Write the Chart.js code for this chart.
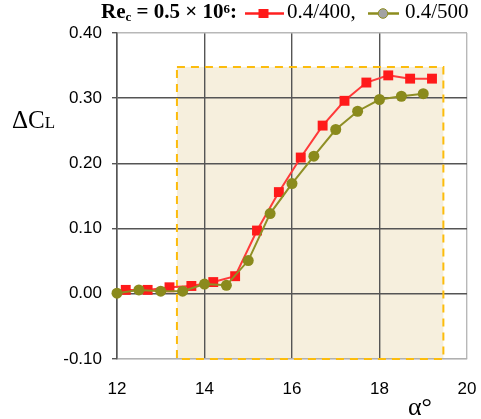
<!DOCTYPE html>
<html><head><meta charset="utf-8">
<script src="https://cdn.jsdelivr.net/npm/chart.js@4"></script>
<style>
body{margin:0;background:#fff}
#wrap{position:relative;width:481px;height:419px;overflow:hidden}
canvas{position:absolute;left:0;top:0}
.t{position:absolute;font-family:"Liberation Serif","Times New Roman",serif;color:#000;white-space:nowrap}
.sub{font-size:0.62em;position:relative;top:0.22em}
.sup{font-size:0.62em;position:relative;top:-0.42em}
svg{position:absolute}
</style></head><body>
<div id="wrap">
<canvas id="c" width="481" height="419"></canvas>
<div class="t" style="left:101px;top:1px;font-size:21px;line-height:21px;font-weight:bold">Re<span class="sub">c</span> = 0.5 × 10<span class="sup">6</span>:</div>
<svg style="left:245px;top:6px" width="40" height="15"><line x1="0" y1="7.5" x2="39" y2="7.5" stroke="#ff2020" stroke-width="2.5"/><rect x="13.5" y="3" width="10" height="9" fill="#ff1a1a"/></svg>
<div class="t" style="left:287px;top:1px;font-size:21px;line-height:21px">0.4/400,</div>
<svg style="left:368px;top:6px" width="32" height="15"><line x1="0" y1="7.5" x2="31" y2="7.5" stroke="#8c8c1e" stroke-width="2.5"/><circle cx="15" cy="7.5" r="4.8" fill="#a3a3a3" stroke="#8c8c1e" stroke-width="1"/></svg>
<div class="t" style="left:405px;top:1px;font-size:21px;line-height:21px">0.4/500</div>
<div class="t" style="left:12px;top:107px;font-size:25px;line-height:25px">ΔC<span style="font-size:17px">L</span></div>
<div class="t" style="left:408px;top:394px;font-size:26px;line-height:26px">α°</div>
</div>
<script>
const alphaRed = [12.2, 12.7, 13.2, 13.7, 14.2, 14.7, 15.2, 15.7, 16.2, 16.7, 17.2, 17.7, 18.2, 18.7, 19.2];
const dClRed   = [0.006, 0.006, 0.010, 0.012, 0.018, 0.027, 0.097, 0.156, 0.209, 0.258, 0.296, 0.324, 0.335, 0.330, 0.330];
const alphaOlive = [12.0, 12.5, 13.0, 13.5, 14.0, 14.5, 15.0, 15.5, 16.0, 16.5, 17.0, 17.5, 18.0, 18.5, 19.0];
const dClOlive   = [0.001, 0.006, 0.004, 0.004, 0.015, 0.013, 0.051, 0.123, 0.169, 0.211, 0.252, 0.280, 0.298, 0.303, 0.307];
const xTicks = [12, 14, 16, 18, 20];
const yTicks = [-0.10, 0.00, 0.10, 0.20, 0.30, 0.40];
const shadeAlpha = [13.37, 19.46];
const shadeDCl = [-0.10, 0.348];

const toPts = (xs, ys) => xs.map((x, i) => ({x: x, y: ys[i]}));

const shadePlugin = {
  id: 'shade',
  beforeDraw(chart) {
    const {ctx, scales: {x, y}} = chart;
    const l = x.getPixelForValue(shadeAlpha[0]), r = x.getPixelForValue(shadeAlpha[1]);
    const t = y.getPixelForValue(shadeDCl[1]), b = y.getPixelForValue(shadeDCl[0]);
    ctx.save();
    ctx.fillStyle = '#f6efdd';
    ctx.fillRect(l, t, r - l, b - t);
    ctx.restore();
  },
  beforeDatasetsDraw(chart) {
    const {ctx, scales: {x, y}} = chart;
    const l = x.getPixelForValue(shadeAlpha[0]), r = x.getPixelForValue(shadeAlpha[1]);
    const t = y.getPixelForValue(shadeDCl[1]), b = y.getPixelForValue(shadeDCl[0]);
    ctx.save();
    ctx.strokeStyle = '#fcbc0c';
    ctx.lineWidth = 2;
    ctx.setLineDash([8, 6]);
    ctx.strokeRect(l, t, r - l, b - t);
    ctx.restore();
  }
};

new Chart(document.getElementById('c'), {
  type: 'line',
  data: {
    datasets: [
      {label: '0.4/400', data: toPts(alphaRed, dClRed), borderColor: '#ff3a3a', backgroundColor: '#ff1a1a',
       borderWidth: 2, pointStyle: 'rect', pointRadius: 7, pointBorderWidth: 0, pointBackgroundColor: '#ff1a1a',
       tension: 0, clip: false, order: 1},
      {label: '0.4/500', data: toPts(alphaOlive, dClOlive), borderColor: '#8f8f25', backgroundColor: '#8a8a1c',
       borderWidth: 2, pointStyle: 'circle', pointRadius: 5.5, pointBorderWidth: 0, pointBackgroundColor: '#8a8a1c',
       tension: 0, clip: false, order: 0}
    ]
  },
  options: {
    responsive: false,
    animation: false,
    devicePixelRatio: 1,
    layout: {padding: {top: 33, right: 14, left: 0, bottom: 0}},
    plugins: {legend: {display: false}, tooltip: {enabled: false}},
    scales: {
      x: {
        type: 'linear', min: 12, max: 20,
        afterFit: (s) => { s.height = 60; s.paddingLeft = 0; s.paddingRight = 0; },
        afterBuildTicks: (s) => { s.ticks = xTicks.map(v => ({value: v})); },
        grid: {color: (ctx) => (ctx.index === xTicks.length - 1 ? '#b8b8b8' : '#555555'), lineWidth: 1.4, drawTicks: false},
        border: {color: '#b0b0b0', width: 1.3},
        ticks: {padding: 20, color: '#000', font: {family: '"Liberation Sans", Arial, sans-serif', size: 17}, maxRotation: 0,
                callback: (v) => String(v)}
      },
      y: {
        min: -0.10, max: 0.40,
        afterFit: (s) => { s.width = 117; s.paddingTop = 0; s.paddingBottom = 0; },
        afterBuildTicks: (s) => { s.ticks = yTicks.map(v => ({value: v})); },
        grid: {color: (ctx) => ((ctx.index === 0 || ctx.index === yTicks.length - 1) ? '#b8b8b8' : '#555555'),
               tickColor: '#555555', lineWidth: 1.4, drawTicks: true, tickLength: 5},
        border: {color: '#555555', width: 1.5},
        ticks: {padding: 10, color: '#000', font: {family: '"Liberation Sans", Arial, sans-serif', size: 17},
                callback: (v) => Number(v).toFixed(2)}
      }
    }
  },
  plugins: [shadePlugin]
});
</script>
</body></html>
